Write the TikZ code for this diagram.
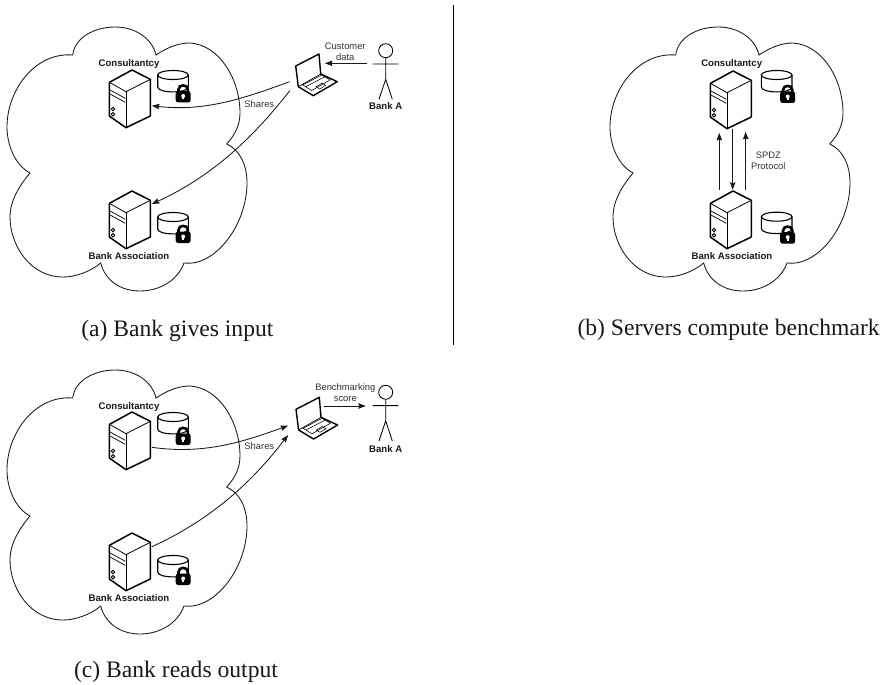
\documentclass[tikz,border=0pt]{standalone}
\usepackage{fontspec}
\setmainfont{Liberation Sans}
\newfontfamily\capfont{Liberation Serif}
\usetikzlibrary{arrows.meta}
\tikzset{
  thinline/.style={line width=0.85pt,black!90},
  conn/.style={line width=0.85pt,black!90,-{Stealth[length=7.5pt,width=5.5pt,inset=1pt]}},
  plainlabel/.style={font=\fontsize{9.4}{11}\selectfont,text=black!80,inner sep=0pt},
  boldlabel/.style={font=\fontsize{9.6}{11}\selectfont\bfseries,text=black!90,inner sep=0pt},
  caption/.style={font=\capfont\fontsize{23.6}{26}\selectfont,text=black!90,inner sep=0pt,anchor=base},
  hitbox/.style={inner sep=0pt,minimum width=42pt,minimum height=58pt},
  lapbox/.style={inner sep=0pt,minimum width=42pt,minimum height=42pt},
  manbox/.style={inner sep=0pt,minimum width=26pt,minimum height=55pt},
  cloudshape/.pic={
    \draw[thinline,line join=miter] (72.7,55)
      .. controls (75,37) and (95,27) .. (115,27)
      .. controls (135,27) and (152,38) .. (156,55)
      .. controls (168,47) and (179,43) .. (190,43)
      .. controls (220,45) and (240,80) .. (240,113)
      .. controls (240,125) and (235,135) .. (226.7,144)
      .. controls (240,150) and (247,165) .. (247,183)
      .. controls (247,225) and (215,267) .. (184,263)
      .. controls (178,280) and (160,291) .. (140,291)
      .. controls (120,291) and (105,280) .. (100.7,263)
      .. controls (90,272) and (75,277) .. (63,277)
      .. controls (30,277) and (10,245) .. (10,217)
      .. controls (10,200) and (20,185) .. (30,173)
      .. controls (15,165) and (7,145) .. (7,127)
      .. controls (7,90) and (35,52) .. (72.7,55) -- cycle;
  },
  serverbody/.pic={
    \draw[line width=0.8pt] (-22.5,12.3) -- (-6,21.7) -- (18.3,9.3);
    \draw[line width=0.8pt] (-6,21.7) -- (-6,57.7);
    \draw[line width=0.7pt] (-22,20) -- (-6.7,28.3) (-22,24) -- (-6.7,32.3);
    \draw[line width=0.9pt] (-19,39) circle (1.7) (-19,44.3) circle (1.7);
    \draw[line width=1.5pt,line join=round] (0,0) -- (18.3,9.3) -- (18.3,46) -- (-6,57.7) -- (-22.7,46) -- (-22.5,12.3) -- cycle;
  },
  dbshape/.pic={
    \draw[line width=1.1pt] (-15.3,0) -- (-15.3,12) .. controls (-15.3,18.5) and (15.3,18.5) .. (15.3,12) -- (15.3,0);
    \draw[line width=1.1pt] (0,0) ellipse (15.3 and 4.5);
  },
  lockshape/.pic={
    \draw[line width=2.6pt] (-4.7,-3) -- (-4.7,-6) .. controls (-4.7,-11.5) and (4.7,-11.5) .. (4.7,-6) -- (4.7,-3);
    \fill[black,rounded corners=2.5pt] (-7.5,-4.5) rectangle (7.5,7);
    \fill[white] (0,0.5) circle (2);
    \fill[white] (-0.9,0.5) rectangle (0.9,4);
  },
  laptopshape/.pic={
    \draw[line width=1.4pt,line join=round] (2.6,20.7) -- (0,0) -- (23.3,-12) -- (25,8);
    \draw[line width=0.7pt] (2.6,20.7) -- (25,8);
    \draw[line width=1.4pt,line join=round] (2.6,20.7) -- (17.6,29.7) -- (41.6,15.7) -- (25,8);
    \draw[line width=0.55pt] (7,19) -- (26,9) -- (34.3,14) -- (16,24.5) -- cycle;
    \draw[line width=0.55pt] (10,20.8) -- (29,10.8);
    \draw[line width=0.55pt] (20.3,20.7) -- (26.5,17.2) -- (30,19.4) -- (24,23) -- cycle;
  },
  manshape/.pic={
    \draw[line width=0.85pt] (0,0) circle (7);
    \draw[line width=0.85pt] (0,7) -- (0,28.6) (-13,13.3) -- (12.6,13.3) (-6.7,48.6) -- (0,28.6) -- (6.6,48.6);
  },
}
\begin{document}
\begin{tikzpicture}[x=1pt,y=-1pt]
\useasboundingbox (0,0) rectangle (887,685);
\fill[white] (0,0) rectangle (887,685);

% divider
\coordinate (divTop) at (453,5);
\coordinate (divBot) at (453,345);
\draw[line width=0.8pt] (divTop) -- (divBot);

% ---------- (a)
\pic at (0,0) {cloudshape};
\node[hitbox] (srvA1) at (129,99) {};
\node[hitbox] (srvA2) at (129,220) {};
\pic at (132,70) {serverbody};
\pic at (132,191) {serverbody};
\pic at (173,75) {dbshape};
\pic at (173,217) {dbshape};
\pic at (183.2,95.5) {lockshape};
\pic at (183.2,236) {lockshape};
\node[boldlabel] (consA) at (129,64) {Consultantcy};
\node[boldlabel] (bankA) at (129,256) {Bank Association};
\node[lapbox] (lapA) at (316.7,75) {};
\pic at (295.7,66) {laptopshape};
\node[manbox] (manA) at (385.7,71.5) {};
\pic at (385.7,50.7) {manshape};
\node[boldlabel] (nameA) at (385.7,106) {Bank A};
\draw[conn] ([shift={(-6,6.7)}]lapA.west) .. controls (245,98) and (205,112) .. ([shift={(1.7,6.7)}]srvA1.east);
\draw[conn] ([shift={(-5.7,15.7)}]lapA.west) .. controls (255,135) and (215,175) .. ([shift={(1.7,-16)}]srvA2.east);
\draw[conn] ([shift={(-6,-8.2)}]manA.west) -- ([shift={(-13,-11.7)}]lapA.east);
\node[plainlabel] (custA) at (345.3,46) {Customer};
\node[plainlabel] (dataA) at (345.3,56.7) {data};
\node[plainlabel] (shareA) at (259.3,104) {Shares};
\node[caption] (capA) at (177.4,336) {(a) Bank gives input};

% ---------- (b)
\pic at (603,0) {cloudshape};
\node[hitbox] (srvB1) at (730,100) {};
\node[hitbox] (srvB2) at (730,220) {};
\pic at (733,71) {serverbody};
\pic at (733,191) {serverbody};
\pic at (776.7,75) {dbshape};
\pic at (776.7,216.7) {dbshape};
\pic at (787.7,96) {lockshape};
\pic at (787.7,236.7) {lockshape};
\node[boldlabel] (consB) at (731.7,64) {Consultantcy};
\node[boldlabel] (bankB) at (732,256) {Bank Association};
\draw[conn] ([shift={(-10.7,-1)}]srvB2.north) -- ([shift={(-10.7,3.7)}]srvB1.south);
\draw[conn] ([shift={(2.7,-0.7)}]srvB1.south) -- ([shift={(2.7,-1)}]srvB2.north);
\draw[conn] ([shift={(15.7,-1)}]srvB2.north) -- ([shift={(15.7,2.7)}]srvB1.south);
\node[plainlabel] (spdz) at (768.3,155) {SPDZ};
\node[plainlabel] (proto) at (768.3,165.7) {Protocol};
\node[caption] (capB) at (728.6,335.5) {(b) Servers compute benchmark};

% ---------- (c)
\pic at (0,343) {cloudshape};
\node[hitbox] (srvC1) at (129,441) {};
\node[hitbox] (srvC2) at (129,562) {};
\pic at (132,412) {serverbody};
\pic at (132,533) {serverbody};
\pic at (173,417) {dbshape};
\pic at (173,560) {dbshape};
\pic at (183.2,438) {lockshape};
\pic at (183.2,578) {lockshape};
\node[boldlabel] (consC) at (129,407) {Consultantcy};
\node[boldlabel] (bankC) at (129,598) {Bank Association};
\node[lapbox] (lapC) at (317,418.3) {};
\pic at (296,409.3) {laptopshape};
\node[manbox] (manC) at (385.7,413.5) {};
\pic at (385.7,392.3) {manshape};
\node[boldlabel] (nameC) at (385.7,449) {Bank A};
\draw[conn] ([shift={(1.7,6.3)}]srvC1.east) .. controls (205,455) and (245,441) .. ([shift={(-7.7,7.4)}]lapC.west);
\draw[conn] ([shift={(1.7,-15.3)}]srvC2.east) .. controls (215,518) and (255,478) .. ([shift={(-7.7,16.7)}]lapC.west);
\draw[conn] ([shift={(-14,-12.3)}]lapC.east) -- ([shift={(-6.7,-7.5)}]manC.west);
\node[plainlabel] (benchC) at (345.3,388.3) {Benchmarking};
\node[plainlabel] (scoreC) at (345.3,399.3) {score};
\node[plainlabel] (shareC) at (259.3,445.7) {Shares};
\node[caption] (capC) at (176,677) {(c) Bank reads output};
\end{tikzpicture}
\end{document}
